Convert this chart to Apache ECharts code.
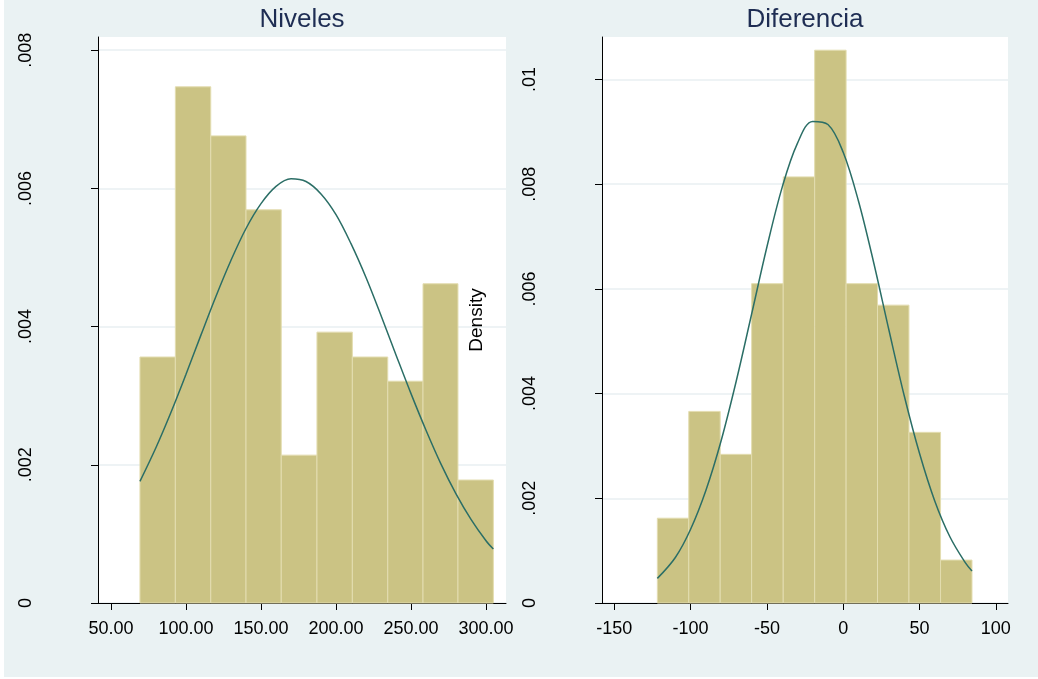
<!DOCTYPE html>
<html>
<head>
<meta charset="utf-8">
<script src="https://cdn.jsdelivr.net/npm/echarts@6/dist/echarts.min.js"></script>
<style>
html, body { margin: 0; padding: 0; background: #fff; }
#chart { position: absolute; left: 4px; top: 0; width: 1034px; height: 677px; }
</style>
</head>
<body>
<div id="chart"></div>
<script>
// Niveles: bin edges, bar densities, normal curve
const nivelesEdges = [69.3, 92.9, 116.5, 140.0, 163.5, 187.3, 210.9, 234.5, 258.0, 281.3, 304.9]
const nivelesDensity = [0.00356, 0.00747, 0.00676, 0.00569, 0.00214, 0.00392, 0.00356, 0.00321, 0.00462, 0.00178]
const nivelesCurveX = [69.3, 80, 90, 100, 110, 120, 130, 140, 150, 160, 170, 180, 190, 200, 210, 220, 230, 240, 250, 260, 270, 280, 290, 300, 304.9]
const nivelesCurveY = [0.00176, 0.00225, 0.00276, 0.00331, 0.00388, 0.00444, 0.00496, 0.00542, 0.00578, 0.00603, 0.00614, 0.00610, 0.00592, 0.00562, 0.00520, 0.00471, 0.00416, 0.00359, 0.00303, 0.00250, 0.00201, 0.00158, 0.00121, 0.00090, 0.00078]
const nivelesXTicks = [50, 100, 150, 200, 250, 300]
const nivelesYTicks = [0, 0.002, 0.004, 0.006, 0.008]

// Diferencia
const diferenciaEdges = [-121.8, -101.2, -80.6, -60.0, -39.3, -18.7, 1.9, 22.5, 43.1, 63.8, 84.4]
const diferenciaDensity = [0.00162, 0.00366, 0.00284, 0.00610, 0.00814, 0.01056, 0.00610, 0.00569, 0.00326, 0.00082]
const diferenciaCurveX = [-121.8, -110, -100, -90, -80, -70, -60, -50, -40, -30, -20, -10, 0, 10, 20, 30, 40, 50, 60, 70, 80, 84.4]
const diferenciaCurveY = [0.00047, 0.00087, 0.00141, 0.00215, 0.00310, 0.00425, 0.00552, 0.00680, 0.00794, 0.00878, 0.00920, 0.00914, 0.00861, 0.00768, 0.00650, 0.00521, 0.00396, 0.00286, 0.00195, 0.00126, 0.00077, 0.00061]
const diferenciaXTicks = [-150, -100, -50, 0, 50, 100]
const diferenciaYTicks = [0, 0.002, 0.004, 0.006, 0.008, 0.01]

const barFill = '#cbc384'
const barLine = '#e3ddb0'
const curveColor = '#2b6e66'
const font = 'Liberation Sans, Arial, sans-serif'

const bins = (edges, dens) => dens.map((d, i) => [edges[i], edges[i + 1], d])
const pairs = (xs, ys) => xs.map((x, i) => [x, ys[i]])
const yFmt = v => v === 0 ? '0' : String(v).replace(/^0/, '')

const renderBar = (params, api) => {
  const p0 = api.coord([api.value(0), api.value(2)])
  const p1 = api.coord([api.value(1), 0])
  return {
    type: 'rect',
    shape: { x: p0[0], y: p0[1], width: p1[0] - p0[0], height: p1[1] - p0[1] },
    style: { fill: barFill, stroke: barLine, lineWidth: 1 }
  }
}

const xAxisBase = (idx, min, max, ticks, fmt) => ({
  type: 'value', gridIndex: idx, min: min, max: max,
  axisLine: { show: true, onZero: false, lineStyle: { color: '#000', width: 1 } },
  axisTick: { show: true, length: 7, customValues: ticks, lineStyle: { color: '#000' } },
  axisLabel: { customValues: ticks, formatter: fmt, color: '#000', fontSize: 18, fontFamily: font, margin: 17 },
  splitLine: { show: false }
})
const yAxisBase = (idx, max, ticks) => ({
  type: 'value', gridIndex: idx, min: 0, max: max,
  axisLine: { show: true, onZero: false, lineStyle: { color: '#000', width: 1 } },
  axisTick: { show: true, length: 7, customValues: ticks, lineStyle: { color: '#000' } },
  axisLabel: { customValues: ticks, formatter: yFmt, rotate: 90, color: '#000', fontSize: 18, fontFamily: font, margin: 63 },
  splitLine: { show: true, lineStyle: { color: '#e8eff2', width: 1.5 } }
})

const chart = echarts.init(document.getElementById('chart'))
const option = {
  animation: false,
  backgroundColor: '#eaf2f3',
  title: [
    { text: 'Niveles', left: 298, top: 7, padding: 0, textAlign: 'center',
      textStyle: { fontFamily: font, fontSize: 26, fontWeight: 'normal', color: '#1e2d53' } },
    { text: 'Diferencia', left: 801, top: 7, padding: 0, textAlign: 'center',
      textStyle: { fontFamily: font, fontSize: 26, fontWeight: 'normal', color: '#1e2d53' } }
  ],
  grid: [
    { left: 94, top: 37, width: 408, height: 566, show: true, backgroundColor: '#fff', borderWidth: 0 },
    { left: 598, top: 37, width: 406, height: 566, show: true, backgroundColor: '#fff', borderWidth: 0 }
  ],
  xAxis: [
    xAxisBase(0, 41.33, 313.33, nivelesXTicks, v => v.toFixed(2)),
    xAxisBase(1, -158.06, 108.0, diferenciaXTicks, v => String(v))
  ],
  yAxis: [
    yAxisBase(0, 0.008191, nivelesYTicks),
    Object.assign(yAxisBase(1, 0.010812, diferenciaYTicks), {
      name: 'Density', nameLocation: 'middle', nameGap: 116,
      nameTextStyle: { fontFamily: font, fontSize: 19, color: '#000' }
    })
  ],
  series: [
    { type: 'custom', xAxisIndex: 0, yAxisIndex: 0, renderItem: renderBar,
      encode: { x: [0, 1], y: 2 }, data: bins(nivelesEdges, nivelesDensity) },
    { type: 'line', xAxisIndex: 0, yAxisIndex: 0, data: pairs(nivelesCurveX, nivelesCurveY),
      smooth: 0.35, showSymbol: false, z: 5, lineStyle: { color: curveColor, width: 1.5 } },
    { type: 'custom', xAxisIndex: 1, yAxisIndex: 1, renderItem: renderBar,
      encode: { x: [0, 1], y: 2 }, data: bins(diferenciaEdges, diferenciaDensity) },
    { type: 'line', xAxisIndex: 1, yAxisIndex: 1, data: pairs(diferenciaCurveX, diferenciaCurveY),
      smooth: 0.35, showSymbol: false, z: 5, lineStyle: { color: curveColor, width: 1.5 } }
  ]
}
chart.setOption(option)
</script>
</body>
</html>
